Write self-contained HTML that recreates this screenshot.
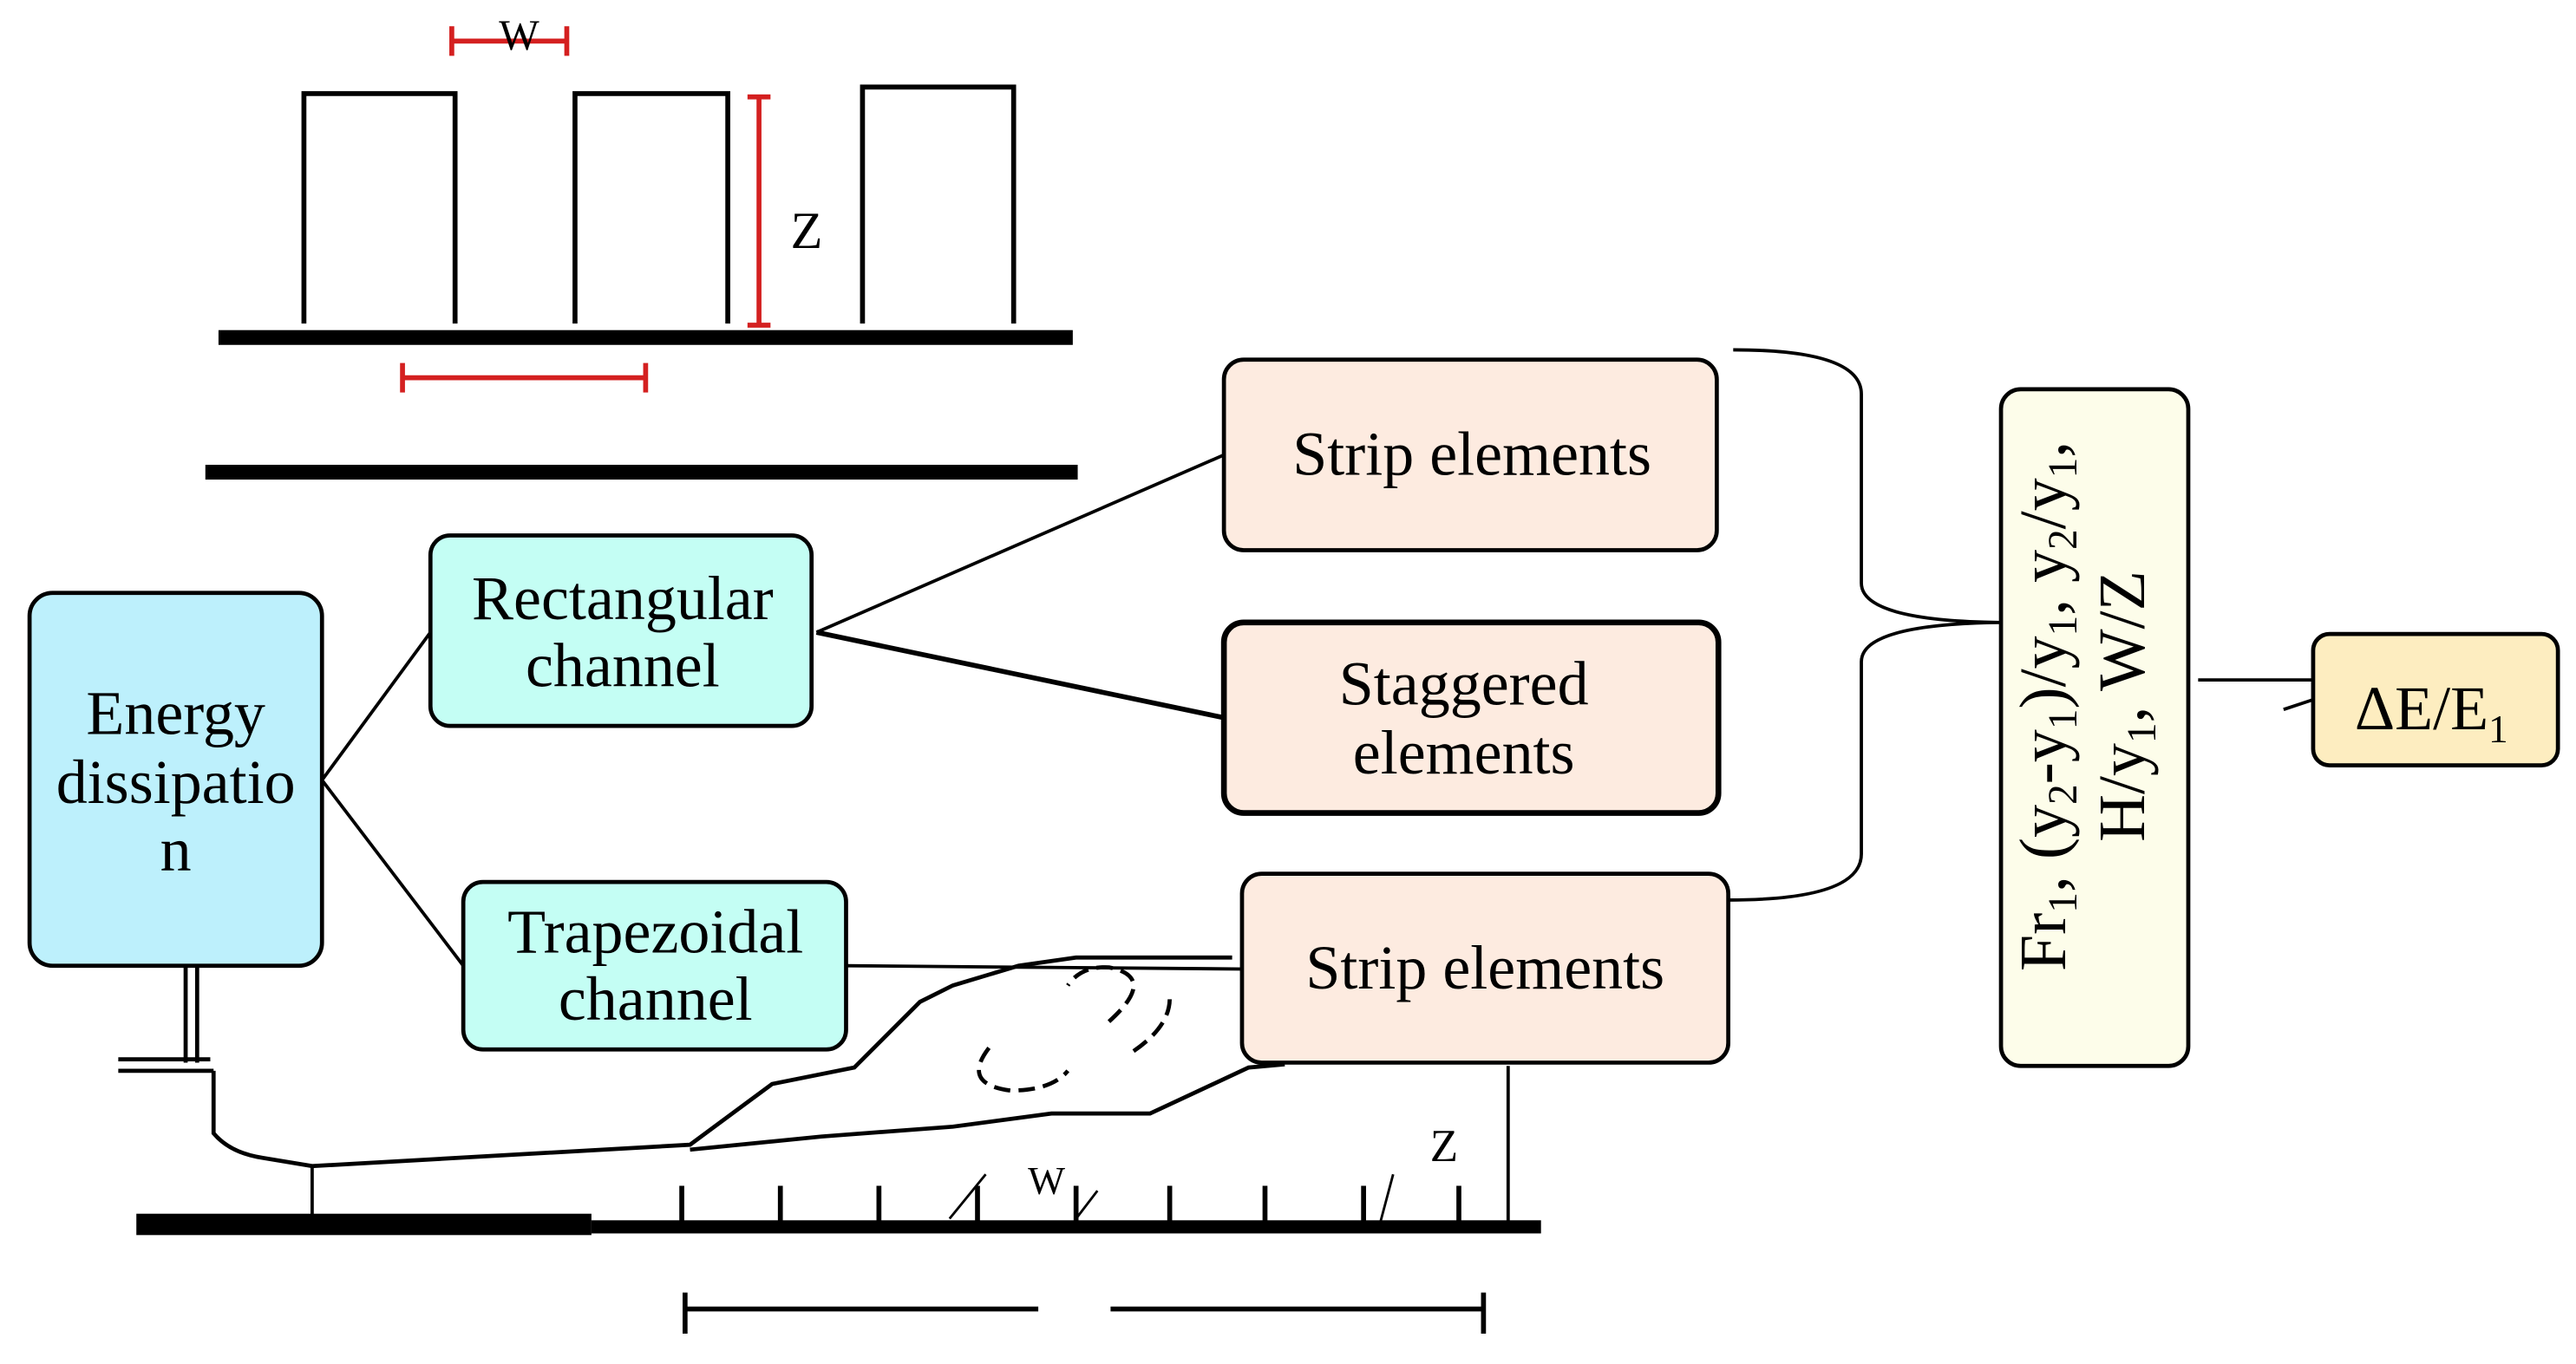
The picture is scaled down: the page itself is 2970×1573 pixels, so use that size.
<!DOCTYPE html>
<html><head><meta charset="utf-8"><style>
html,body{margin:0;padding:0;background:#fff;}
svg{display:block;}
text{font-family:"Liberation Serif",serif;fill:#000;}
</style></head><body>
<svg width="2970" height="1573" viewBox="0 0 1568 830.5" preserveAspectRatio="none" xmlns="http://www.w3.org/2000/svg">
<!-- top schematic -->
<g stroke="#000" stroke-width="3" fill="none">
<path d="M185,197 V57 H277 V197"/>
<path d="M350,197 V57 H443 V197"/>
<path d="M525,197 V53 H617 V197"/>
</g>
<rect x="133" y="201" width="520" height="9" fill="#000"/>
<rect x="125" y="283" width="531" height="9" fill="#000"/>
<g stroke="#d42020" stroke-width="3" fill="none">
<path d="M275,25 H345 M275,16 V34 M345,16 V34"/>
<path d="M462,59 V198 M455,59 H469 M455,198 H469"/>
<path d="M245,230 H393 M245,221 V239 M393,221 V239"/>
</g>
<text x="316" y="30" font-size="26" text-anchor="middle">W</text>
<text x="491" y="151" font-size="32" text-anchor="middle">Z</text>

<!-- bottom schematic -->
<g stroke="#000" fill="none" stroke-width="2.5">
<path d="M113,588 V647 M120,588 V647"/>
<path d="M72,645 H128 M72,652 H130"/>
<path d="M130,652 V690 Q140,702 160,705 L190,710 L420,697 L470,660 L520,650 L560,610 L580,600 L620,588 L655,583 H750"/>
<path d="M420,700 L500,692 L580,686 L640,678 L700,678 L760,650 L782,648"/>
<path d="M190,710 V746 M918,649 V746" stroke-width="2"/>
<path d="M602,638 Q585,660 615,664 Q640,664 650,652" stroke-dasharray="10,5"/>
<path d="M675,622 Q705,595 675,589 Q658,588 650,600" stroke-dasharray="10,5"/>
<path d="M690,640 Q712,625 712,608" stroke-dasharray="10,5"/>
</g>
<rect x="83" y="739" width="277" height="13" fill="#000"/>
<rect x="360" y="743" width="578" height="8" fill="#000"/>
<g stroke="#000" stroke-width="3">
<path d="M415,722 V746 M475,722 V746 M535,722 V746 M595,722 V746 M655,722 V746 M712,722 V746 M770,722 V746 M830,722 V746 M888,722 V746"/>
<path d="M578,742 L600,715 M655,742 L668,725 M840,745 L848,715" stroke-width="1.5"/>
<path d="M417,797 H632 M676,797 H903 M417,787 V812 M903,787 V812"/>
</g>
<text x="637" y="727" font-size="24" text-anchor="middle">W</text>
<text x="879" y="707" font-size="28" text-anchor="middle">Z</text>

<!-- connectors -->
<g stroke="#000" fill="none" stroke-width="2">
<path d="M196,475 L262,385 M196,475 L282,588"/>
<path d="M497,385 L745,277"/>
<path d="M497,385 L745,437" stroke-width="3"/>
<path d="M515,588 L756,590"/>
<path d="M1055,213 Q1133,213 1133,240 V355 Q1133,378 1218,379 Q1133,380 1133,403 V520 Q1133,548 1052,548"/>
<path d="M1338,414 H1408 M1390,432 L1408,426"/>
</g>

<!-- boxes -->
<g stroke="#000" stroke-width="2.5">
<rect x="18" y="361" width="178" height="227" rx="14" fill="#bdf0fc"/>
<rect x="262" y="326" width="232" height="116" rx="12" fill="#c4fef4"/>
<rect x="282" y="537" width="233" height="102" rx="12" fill="#c4fef4"/>
<rect x="745" y="219" width="300" height="116" rx="12" fill="#fdebe0"/>
<rect x="745" y="379" width="301" height="116" rx="12" fill="#fdebe0" stroke-width="3.5"/>
<rect x="756" y="532" width="296" height="115" rx="12" fill="#fdebe0"/>
<rect x="1218" y="237" width="114" height="412" rx="12" fill="#fdfdea"/>
<rect x="1408" y="386" width="149" height="80" rx="10" fill="#fdedc0"/>
</g>
<g font-size="38" text-anchor="middle">
<text x="107" y="447">Energy</text>
<text x="107" y="489">dissipatio</text>
<text x="107" y="530">n</text>
<text x="379" y="377">Rectangular</text>
<text x="379" y="418">channel</text>
<text x="399" y="580">Trapezoidal</text>
<text x="399" y="621">channel</text>
<text x="896" y="289">Strip elements</text>
<text x="891" y="429">Staggered</text>
<text x="891" y="471">elements</text>
<text x="904" y="602">Strip elements</text>
<text x="1480" y="444">ΔE/E<tspan font-size="24" dy="8">1</tspan></text>
</g>
<g font-size="40" text-anchor="middle" transform="translate(1275,430) rotate(-90)">
<text x="0" y="-18">Fr<tspan font-size="25" dy="7">1</tspan><tspan dy="-7">, (y</tspan><tspan font-size="25" dy="7">2</tspan><tspan dy="-7">-y</tspan><tspan font-size="25" dy="7">1</tspan><tspan dy="-7">)/y</tspan><tspan font-size="25" dy="7">1</tspan><tspan dy="-7">, y</tspan><tspan font-size="25" dy="7">2</tspan><tspan dy="-7">/y</tspan><tspan font-size="25" dy="7">1</tspan><tspan dy="-7">,</tspan></text>
<text x="0" y="30">H/y<tspan font-size="25" dy="7">1</tspan><tspan dy="-7">, W/Z</tspan></text>
</g>
</svg>
</body></html>
